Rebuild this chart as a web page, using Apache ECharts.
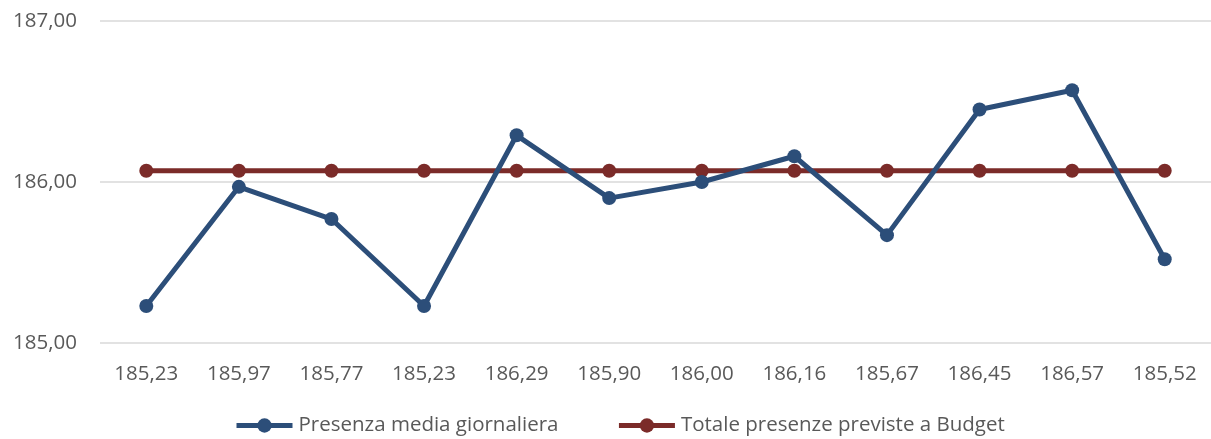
<!DOCTYPE html>
<html><head><meta charset="utf-8">
<script src="https://cdn.jsdelivr.net/npm/echarts@6/dist/echarts.min.js"></script>
<style>html,body{margin:0;padding:0;background:#fff}#c{width:1211px;height:439px}</style>
</head><body><div id="c"></div>
<script>
const categories = ["185,23","185,97","185,77","185,23","186,29","185,90","186,00","186,16","185,67","186,45","186,57","185,52"];
const presenza = [185.23,185.97,185.77,185.23,186.29,185.90,186.00,186.16,185.67,186.45,186.57,185.52];
const budget = [186.07,186.07,186.07,186.07,186.07,186.07,186.07,186.07,186.07,186.07,186.07,186.07];
const seriesNames = ["Presenza media giornaliera","Totale presenze previste a Budget"];

const font = "'Open Sans', 'Noto Sans', sans-serif";
const chart = echarts.init(document.getElementById('c'), null, {renderer:'canvas'});
chart.setOption({
  animation:false,
  textStyle:{fontFamily:font},
  grid:{left:100,right:0,top:21,bottom:96},
  xAxis:{type:'category',data:categories,boundaryGap:true,
    axisLine:{show:false},axisTick:{show:false},
    axisLabel:{color:'#595959',fontSize:20.5,fontFamily:font,margin:21}},
  yAxis:{type:'value',min:185,max:187,interval:1,
    axisLine:{show:false},axisTick:{show:false},
    splitLine:{lineStyle:{color:'#d9d9d9',width:1.5}},
    axisLabel:{color:'#595959',fontSize:20.5,fontFamily:font,margin:23,
      formatter:v=>v.toFixed(2).replace('.',',')}},
  legend:{top:410,left:229,padding:5,itemWidth:56,itemHeight:18,itemGap:58,
    lineStyle:{width:5},
    textStyle:{color:'#595959',fontSize:20.5,fontFamily:font,padding:[0,0,0,1]},
    data:seriesNames},
  series:[
    {name:seriesNames[0],type:'line',data:presenza,symbol:'circle',symbolSize:14,
      lineStyle:{color:'#2c4e79',width:5},itemStyle:{color:'#2c4e79'},z:3},
    {name:seriesNames[1],type:'line',data:budget,symbol:'circle',symbolSize:14,
      lineStyle:{color:'#7b2b29',width:5},itemStyle:{color:'#7b2b29'},z:2}
  ]
});
</script></body></html>
